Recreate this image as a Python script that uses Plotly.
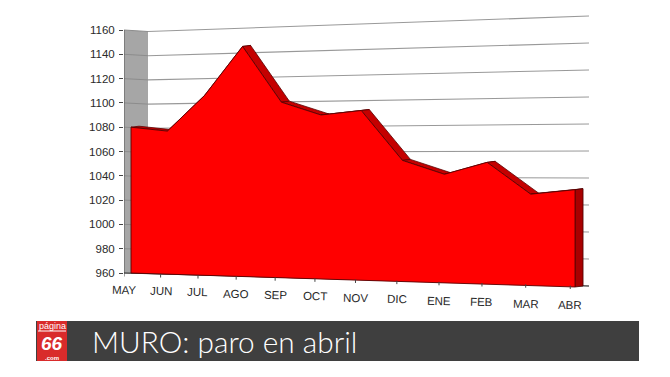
import plotly.graph_objects as go

MONTHS = ["MAY", "JUN", "JUL", "AGO", "SEP", "OCT", "NOV", "DIC", "ENE", "FEB", "MAR", "ABR"]
PARO = [1080, 1076.5, 1105, 1143.5, 1098.5, 1088, 1091, 1052.5, 1042, 1051, 1027.5, 1031]
Y_TICKS = [960, 980, 1000, 1020, 1040, 1060, 1080, 1100, 1120, 1140, 1160]
TITLE = "MURO: paro en abril"

W, H = 670, 377
L, BOTTOM = 124, 320


def val(py):
    return 960 + (273 - py) / 1.215


def ax(px, py):
    return px - L, val(py)


def front(i, v):
    x = 131 + 36 * i + 0.397 * i * i
    base = 273 + (x - 131) * 0.0315
    s = 1.215 + (x - 131) * 0.000349
    return x, base - (v - 960) * s


def wall(x, v):
    base = 273.5 + (x - 148) * 12.5 / 441
    s = 1.21 + (x - 148) * 0.14 / 441
    return base - (v - 960) * s


def poly(points):
    xs, ys = [], []
    for px, py in points:
        a, b = ax(px, py)
        xs.append(a)
        ys.append(b)
    return xs, ys


fig = go.Figure()


def add(points, fill=None, line=None, width=1):
    xs, ys = poly(points)
    fig.add_trace(go.Scatter(
        x=xs, y=ys, mode="lines", hoverinfo="skip", showlegend=False,
        fill="toself" if fill else None, fillcolor=fill,
        line=dict(color=line or "rgba(0,0,0,0)", width=width),
    ))


# side wall
add([(124, front(0, 1160)[1] + 0), (148, wall(148, 1160)), (148, wall(148, 960)), (124, 273)], fill="#a6a6a6")
# gridlines
for v in Y_TICKS:
    y_left = 273 - (v - 960) * 1.215
    add([(124, y_left), (148, wall(148, v))], line="#8c8c8c")
    add([(148, wall(148, v)), (589, wall(589, v))], line="#999999", width=1.1)
# y axis line and floor
add([(124, 30), (124, 273)], line="#555555")
add([(124, 273), (589, 286)], line="#333333")

tops = [front(i, v) for i, v in enumerate(PARO)]
DX, DY = 8, -1
# upper faces
for i in range(len(tops) - 1):
    (x0, y0), (x1, y1) = tops[i], tops[i + 1]
    add([(x0, y0), (x0 + DX, y0 + DY), (x1 + DX, y1 + DY), (x1, y1), (x0, y0)],
        fill="#c40000", line="#5a0000", width=0.8)
# right end face
xe, ye = tops[-1]
be = front(11, 960)[1]
add([(xe, ye), (xe + DX, ye + DY), (xe + DX, be + DY), (xe, be), (xe, ye)],
    fill="#a80000", line="#4a0000", width=0.8)
# front face
base_pts = [front(i, 960) for i in range(len(PARO))]
add(tops + base_pts[::-1] + [tops[0]], fill="#ff0000", line="#5a0000", width=0.9)

annotations = []


def pxx(px):
    return (px - L) / (W - L)


def pyy(py):
    return (BOTTOM - py) / BOTTOM


# month ticks and labels
for i, m in enumerate(MONTHS):
    tx = front(i, 960)[0] - 7 + i * 0.2
    ty = 273 + (tx - 124) * 13 / 465
    add([(tx, ty), (tx, ty + 3.5)], line="#444444")
    ly = 290 + (tx - 124) * 15 / 446
    ax_x, ax_y = ax(tx, ly)
    annotations.append(dict(x=ax_x, y=ax_y, xref="x", yref="y", text=m, showarrow=False, textangle=1.5,
                            font=dict(family="Liberation Sans", size=11.5, color="#2a2a2a")))

shapes = [
    dict(type="rect", xref="paper", yref="paper", x0=pxx(36), x1=pxx(639), y0=pyy(361), y1=pyy(321),
         fillcolor="#3f3f3f", line=dict(width=0), layer="above"),
    dict(type="rect", xref="paper", yref="paper", x0=pxx(37), x1=pxx(67), y0=pyy(361), y1=pyy(321),
         fillcolor="#d92b2b", line=dict(width=0), layer="above"),
    dict(type="line", xref="paper", yref="paper", x0=pxx(38), x1=pxx(66), y0=pyy(331), y1=pyy(331),
         line=dict(color="#ffffff", width=1), layer="above"),
]


def text(px, py, t, size, family="Lato", anchor="center", color="#ffffff", weight=None):
    font = dict(family=family, size=size, color=color)
    if weight:
        font["weight"] = weight
    annotations.append(dict(x=pxx(px), y=pyy(py), xref="paper", yref="paper", text=t, showarrow=False,
                            xanchor=anchor, yanchor="middle", borderpad=0, font=font))


text(91, 341.5, TITLE, 29.8, family="Lato", anchor="left", weight=300)
text(52, 326, "página", 9, family="Liberation Sans")
text(52, 343.5, "<b><i>66</i></b>", 19, family="Liberation Sans")
text(52, 357.5, "<b>.com</b>", 6, family="Liberation Sans")

fig.update_layout(
    width=W, height=H, autosize=False,
    margin=dict(l=L, r=0, t=0, b=H - BOTTOM, pad=0),
    paper_bgcolor="#ffffff", plot_bgcolor="#ffffff",
    xaxis=dict(range=[0, W - L], visible=False, fixedrange=True),
    yaxis=dict(range=[val(BOTTOM), val(0)], tickmode="array", tickvals=Y_TICKS, ticktext=[str(v) for v in Y_TICKS],
               showgrid=False, zeroline=False, showline=False, ticks="outside", ticklen=4, tickcolor="#444444",
               ticklabelstandoff=2,
               tickfont=dict(family="Liberation Sans", size=11.5, color="#2a2a2a"), fixedrange=True),
    shapes=shapes, annotations=annotations, showlegend=False,
)
fig.write_html("out.html", config={"displayModeBar": False},
               post_script="document.body.style.margin='0';document.body.style.overflow='hidden';")
